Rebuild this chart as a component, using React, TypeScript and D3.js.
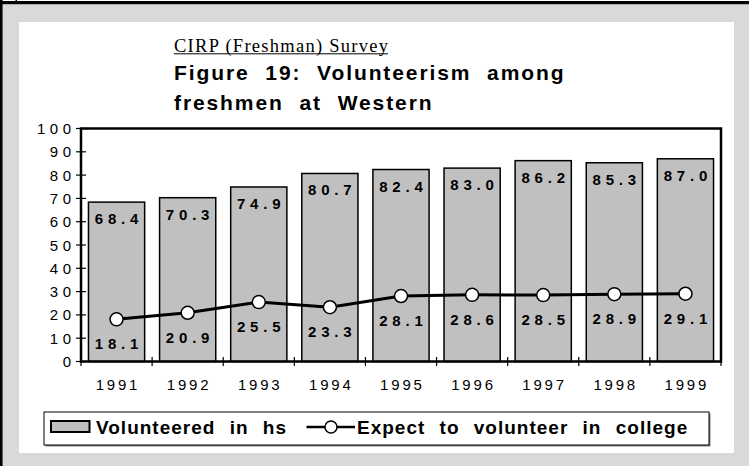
import React from "react";
import * as d3 from "d3";

const years = ["1991", "1992", "1993", "1994", "1995", "1996", "1997", "1998", "1999"];
const volunteeredHS = [68.4, 70.3, 74.9, 80.7, 82.4, 83.0, 86.2, 85.3, 87.0];
const expectCollege = [18.1, 20.9, 25.5, 23.3, 28.1, 28.6, 28.5, 28.9, 29.1];
const yTicks = [0, 10, 20, 30, 40, 50, 60, 70, 80, 90, 100];
const seriesNames = ["Volunteered in hs", "Expect to volunteer in college"];
const subtitle = "CIRP (Freshman) Survey";
const titleLines = ["Figure 19: Volunteerism among", "freshmen at Western"];

const W = 749;
const H = 466;
const plot = { left: 81, right: 721, top: 128.5, bottom: 361.5 };
const SANS = "'Liberation Sans', Arial, Helvetica, sans-serif";
const SERIF = "'Liberation Serif', 'Times New Roman', serif";

export default function App() {
  const x = d3
    .scaleBand<string>()
    .domain(years)
    .range([plot.left, plot.right])
    .paddingInner(0.21)
    .paddingOuter(0.105);
  const y = d3.scaleLinear().domain([0, 100]).range([plot.bottom, plot.top]);
  const step = x.step();
  const cx = (d: string) => (x(d) as number) + x.bandwidth() / 2;

  const line = d3
    .line<number>()
    .x((_, i) => cx(years[i]))
    .y((v) => y(v));

  const boundaries = d3.range(years.length + 1).map((i) => plot.left + i * step);

  const lsX = 2.8;
  const lsY = 4.5;
  const lsVal = 4.8;

  return (
    <svg
      width={W}
      height={H}
      viewBox={`0 0 ${W} ${H}`}
      style={{ position: "fixed", left: 0, top: 0, display: "block" }}
    >
      {/* outer background */}
      <rect x={0} y={0} width={W} height={H} fill="#ffffff" />
      <rect x={2.5} y={4} width={W - 2.5} height={H - 4} fill="#d9d9d9" />
      <rect x={0} y={1} width={W} height={3.2} fill="#000" />
      <rect x={0} y={0} width={2.6} height={H} fill="#000" />
      <rect x={15.5} y={0} width={1.5} height={3} fill="#000" />
      {/* inner white panel */}
      <rect x={19} y={22} width={715} height={431} fill="#ffffff" />

      {/* titles */}
      <text
        x={174}
        y={51.5}
        fontFamily={SERIF}
        fontSize={18.5}
        textLength={214}
        lengthAdjust="spacing"
        fill="#000"
      >
        {subtitle}
      </text>
      <line x1={174} x2={388} y1={53.8} y2={53.8} stroke="#000" strokeWidth={1} />
      {titleLines.map((t, i) => (
        <text
          key={t}
          x={174}
          y={80 + i * 30}
          fontFamily={SANS}
          fontWeight="bold"
          fontSize={21}
          letterSpacing={1.9}
          wordSpacing={8}
          fill="#000"
        >
          {t}
        </text>
      ))}

      {/* bars */}
      {years.map((d, i) => (
        <rect
          key={d}
          x={x(d)}
          y={y(volunteeredHS[i])}
          width={x.bandwidth()}
          height={plot.bottom - y(volunteeredHS[i])}
          fill="#c0c0c0"
          stroke="#000"
          strokeWidth={1.5}
        />
      ))}

      {/* frame / axes */}
      <path
        d={`M${plot.left},${plot.bottom} V${plot.top} H${plot.right} V${plot.bottom} Z`}
        fill="none"
        stroke="#000"
        strokeWidth={2.5}
      />
      {yTicks.map((t) => (
        <g key={t}>
          <line x1={76} x2={86} y1={y(t)} y2={y(t)} stroke="#000" strokeWidth={1.2} />
          <text
            x={71 + lsY}
            y={y(t) + 5.5}
            textAnchor="end"
            fontFamily={SANS}
            fontSize={15}
            letterSpacing={lsY}
            fill="#000"
          >
            {t}
          </text>
        </g>
      ))}
      {boundaries.map((b, i) => (
        <line key={i} x1={b} x2={b} y1={357} y2={366} stroke="#000" strokeWidth={1.2} />
      ))}
      {years.map((d) => (
        <text
          key={d}
          x={cx(d) + lsX / 2}
          y={390}
          textAnchor="middle"
          fontFamily={SANS}
          fontSize={15}
          letterSpacing={lsX}
          fill="#000"
        >
          {d}
        </text>
      ))}

      {/* bar value labels */}
      {years.map((d, i) => (
        <text
          key={d}
          x={cx(d) + lsVal / 2}
          y={y(volunteeredHS[i]) + 22}
          textAnchor="middle"
          fontFamily={SANS}
          fontWeight="bold"
          fontSize={15}
          letterSpacing={lsVal}
          fill="#000"
        >
          {volunteeredHS[i].toFixed(1)}
        </text>
      ))}

      {/* line series */}
      <path d={line(expectCollege) as string} fill="none" stroke="#000" strokeWidth={3} />
      {years.map((d, i) => (
        <circle
          key={d}
          cx={cx(d)}
          cy={y(expectCollege[i])}
          r={6.5}
          fill="#fff"
          stroke="#000"
          strokeWidth={1.5}
        />
      ))}
      {years.map((d, i) => (
        <text
          key={d}
          x={cx(d) + lsVal / 2}
          y={y(expectCollege[i]) + 30}
          textAnchor="middle"
          fontFamily={SANS}
          fontWeight="bold"
          fontSize={15}
          letterSpacing={lsVal}
          fill="#000"
        >
          {expectCollege[i].toFixed(1)}
        </text>
      ))}

      {/* legend */}
      <rect x={45.5} y={413.5} width={665} height={33} fill="#808080" />
      <rect x={44} y={412} width={665} height={33} fill="#fff" stroke="#000" strokeWidth={1} />
      <rect x={51} y={421} width={38.5} height={11} fill="#c0c0c0" stroke="#000" strokeWidth={2} />
      <text
        x={96}
        y={434}
        fontFamily={SANS}
        fontWeight="bold"
        fontSize={19}
        letterSpacing={1}
        wordSpacing={8}
        fill="#000"
      >
        {seriesNames[0]}
      </text>
      <line x1={306.5} x2={355} y1={427} y2={427} stroke="#000" strokeWidth={2.5} />
      <circle cx={331} cy={427} r={6} fill="#fff" stroke="#000" strokeWidth={1.5} />
      <text
        x={357}
        y={434}
        fontFamily={SANS}
        fontWeight="bold"
        fontSize={19}
        letterSpacing={1}
        wordSpacing={8}
        fill="#000"
      >
        {seriesNames[1]}
      </text>
    </svg>
  );
}
